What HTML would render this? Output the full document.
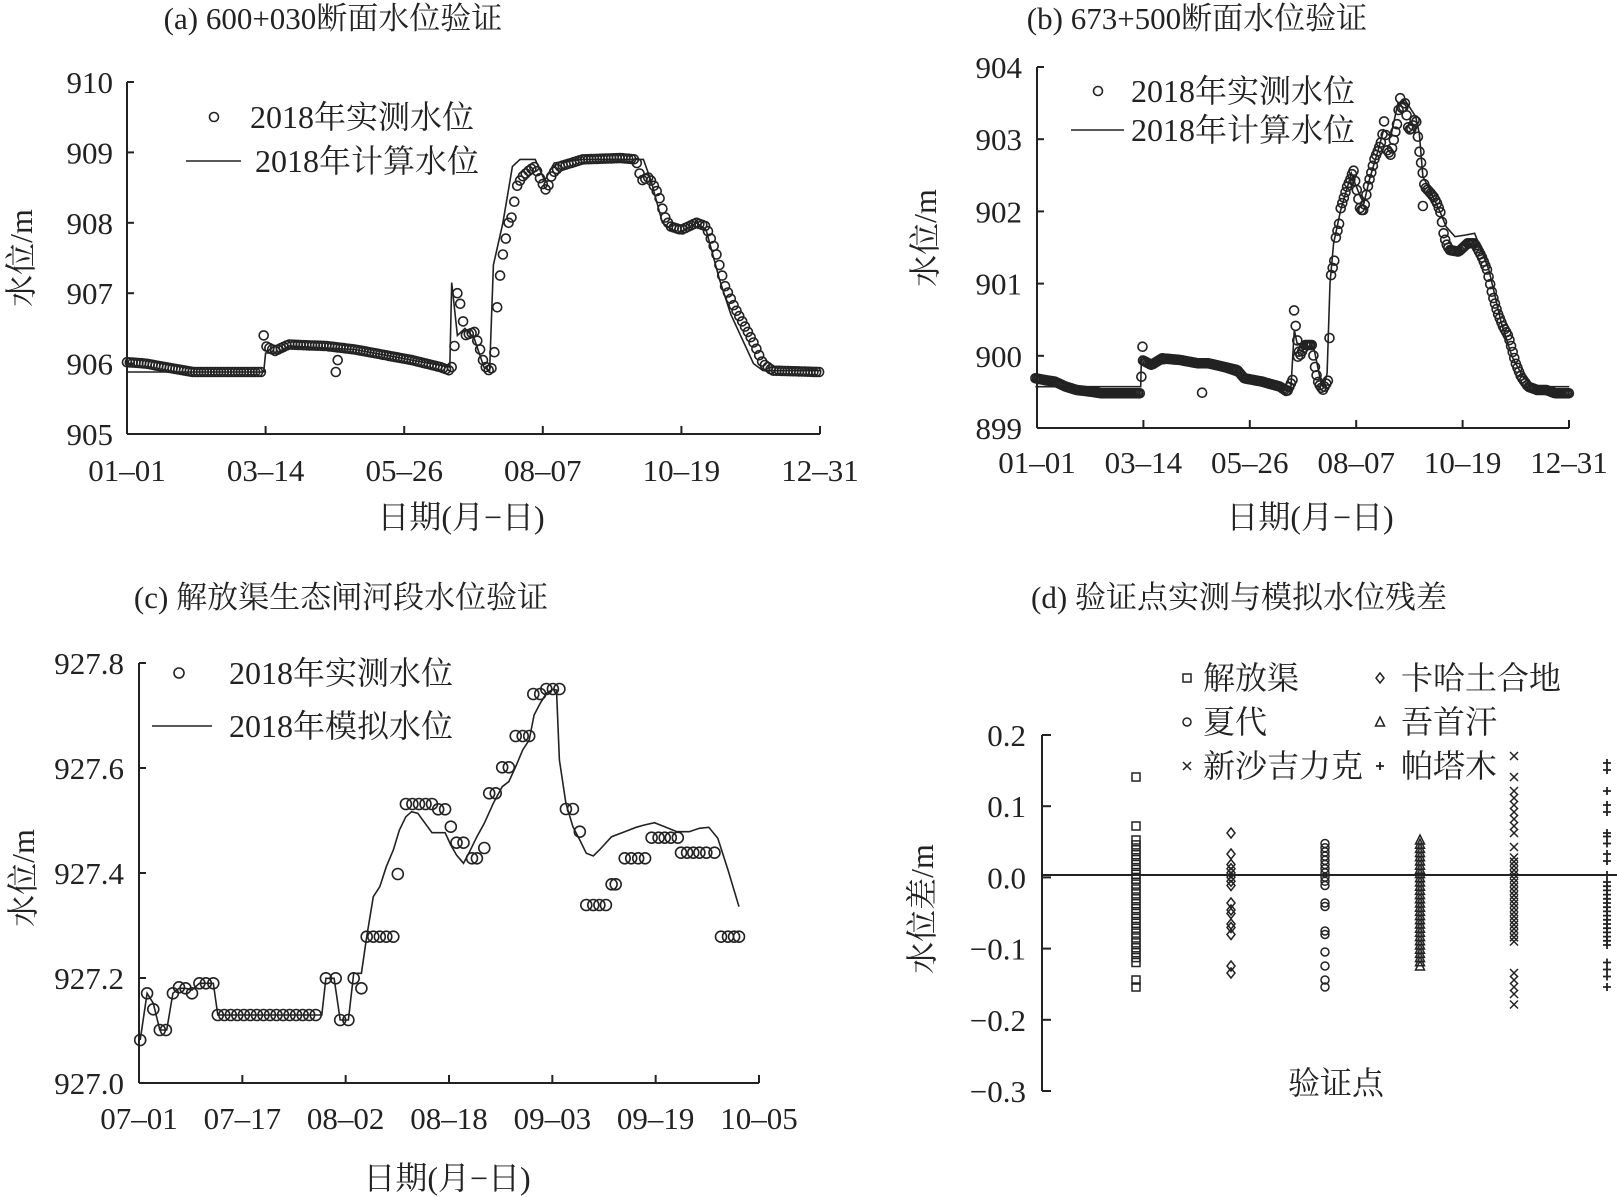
<!DOCTYPE html>
<html><head><meta charset="utf-8"><style>
html,body{margin:0;padding:0;background:#fff}
svg{display:block}
text{font-family:"Liberation Serif","Noto Serif CJK SC","Noto Sans CJK SC",serif;fill:#222}
</style></head><body>
<svg id="s" width="1617" height="1197" viewBox="0 0 1617 1197" xmlns="http://www.w3.org/2000/svg">
<g stroke="#222" stroke-width="2" fill="none" id="axes"></g>
<g id="g" fill="none" stroke="#222" stroke-width="1.6"></g>
<g id="t" font-size="31"></g>
</svg>
<script>
const NS="http://www.w3.org/2000/svg";
const G=document.getElementById('g'),T=document.getElementById('t'),A=document.getElementById('axes');
function el(p,tag,at){const e=document.createElementNS(NS,tag);for(const k in at)e.setAttribute(k,at[k]);p.appendChild(e);return e;}
function txt(x,y,s,anchor,size,rot){const e=el(T,'text',{x:x,y:y,'text-anchor':anchor||'middle'});if(size)e.setAttribute('font-size',size);if(rot)e.setAttribute('transform','rotate(-90 '+x+' '+y+')');e.textContent=s;return e;}
function line(x1,y1,x2,y2){el(A,'line',{x1,y1,x2,y2});}
function interp(pts,x){for(let i=0;i<pts.length-1;i++){if(x>=pts[i][0]&&x<=pts[i+1][0]){const t=(x-pts[i][0])/((pts[i+1][0]-pts[i][0])||1);return pts[i][1]+t*(pts[i+1][1]-pts[i][1]);}}return pts[pts.length-1][1];}
function poly(pts){el(G,'polyline',{points:pts.map(p=>p[0].toFixed(1)+','+p[1].toFixed(1)).join(' ')});}
function circ(x,y,r){el(G,'circle',{cx:x.toFixed(1),cy:y.toFixed(1),r:r||4.5});}

// ---------- Panel a ----------
(function(){
const x0=127,x1=820,yT=82,yB=434;
const X=d=>x0+d*(x1-x0)/365, Y=v=>yB-(v-905)*(yB-yT)/5;
line(x0,yT,x0,yB);line(x0,yB,x1,yB);
for(let i=0;i<=5;i++){const y=yB-i*(yB-yT)/5;line(x0,y,x0+7,y);txt(113,y+11,String(905+i),'end');}
const lab=['01–01','03–14','05–26','08–07','10–19','12–31'];
for(let i=0;i<6;i++){const x=x0+i*(x1-x0)/5;line(x,yB,x,yB-8);txt(x,481,lab[i]);}
const obs=[[0,906.02],[10,906.0],[20,905.95],[35,905.88],[71,905.88],[72,906.4],[73,906.25],[78,906.18],[85,906.27],[105,906.25],[120,906.2],[150,906.05],[165,905.95],[170,905.9],[172,906.0],[174,907.0],[176,906.8],[178,906.4],[183,906.45],[186,906.2],[188,906.0],[190,905.9],[193,905.95],[195,906.8],[197,907.4],[199,907.7],[201,908.0],[203,908.1],[205,908.5],[208,908.65],[212,908.75],[215,908.8],[218,908.6],[221,908.45],[224,908.7],[228,908.8],[240,908.9],[260,908.92],[268,908.9],[271,908.6],[275,908.65],[280,908.4],[283,908.1],[286,907.95],[292,907.9],[300,908.0],[305,907.95],[310,907.6],[315,907.1],[320,906.8],[330,906.3],[335,906.0],[340,905.9],[365,905.88]];
const calc=[[0,905.88],[72,905.88],[73,906.15],[80,906.15],[85,906.25],[120,906.2],[160,906.0],[170,905.95],[171,907.15],[174,906.4],[178,906.5],[183,906.35],[188,905.95],[191,905.9],[193,907.4],[198,908.0],[203,908.8],[207,908.9],[215,908.9],[220,908.6],[225,908.85],[240,908.9],[272,908.9],[276,908.6],[282,908.0],[290,907.85],[300,908.0],[305,907.9],[312,907.2],[318,906.7],[330,906.0],[335,905.9],[365,905.9]];
poly(calc.map(p=>[X(p[0]),Y(p[1])]));
for(let d=0;d<=365;d+=1.5)circ(X(d),Y(interp(obs,d)));
circ(X(110),Y(905.88));circ(X(111),Y(906.05));
txt(333,29,'(a) 600+030断面水位验证','middle',31);
circ(214,117,4.5);
txt(250,128,'2018年实测水位','start',32);
el(A,'line',{x1:186,y1:161,x2:241,y2:161,'stroke-width':1.6});
txt(255,172,'2018年计算水位','start',32);
txt(461,528,'日期(月−日)','middle',32);
txt(32,258,'水位/m','middle',32,true);
})();

// ---------- Panel b ----------
(function(){
const x0=1037,x1=1569,yT=67,yB=428;
line(x0,yT,x0,yB);line(x0,yB,x1,yB);
for(let i=0;i<=5;i++){const y=yB-i*(yB-yT)/5;line(x0,y,x0+7,y);txt(1022,y+11,String(899+i),'end');}
const lab=['01–01','03–14','05–26','08–07','10–19','12–31'];
for(let i=0;i<6;i++){const x=x0+i*(x1-x0)/5;line(x,yB,x,yB-8);txt(x,473,lab[i]);}
const c=p=>[1030+p[0]/2.8,50+p[1]/3];
const obs=[[15,985],[40,990],[70,995],[100,1010],[130,1020],[170,1025],[200,1030],[310,1030],[314,930],[340,945],[370,925],[420,930],[470,940],[500,940],[540,950],[580,960],[600,985],[650,995],[700,1010],[720,1025],[735,990],[740,758],[745,845],[755,920],[770,885],[790,885],[795,930],[800,965],[808,1000],[820,1020],[835,990],[840,810],[842,680],[852,632],[856,565],[868,510],[870,475],[880,440],[888,410],[900,380],[905,355],[910,390],[915,420],[925,480],[935,480],[945,415],[955,370],[965,325],[975,300],[985,270],[992,210],[1000,300],[1010,315],[1015,290],[1022,250],[1030,210],[1035,135],[1042,180],[1050,160],[1060,240],[1070,235],[1080,200],[1092,320],[1097,350],[1105,410],[1118,425],[1130,440],[1140,460],[1150,490],[1158,550],[1165,580],[1175,600],[1200,605],[1225,580],[1245,580],[1265,620],[1280,660],[1295,735],[1310,790],[1325,830],[1340,860],[1350,900],[1360,940],[1375,980],[1395,1010],[1420,1020],[1445,1020],[1470,1030],[1510,1030]];
const calc=[[15,1010],[310,1010],[312,920],[340,945],[420,935],[490,945],[600,985],[720,1020],[730,1025],[740,840],[748,880],[770,885],[795,895],[815,1000],[825,1000],[832,970],[840,700],[850,580],[870,480],[900,370],[910,400],[925,440],[935,460],[950,390],[975,300],[990,240],[1010,260],[1030,160],[1050,150],[1080,200],[1090,250],[1100,380],[1120,420],[1150,490],[1165,530],[1190,560],[1220,555],[1245,550],[1260,590],[1285,660],[1320,820],[1350,920],[1380,980],[1410,1010],[1510,1010]];
poly(calc.map(c));
for(let zx=15;zx<=1510;zx+=4.5){const p=c([zx,interp(obs,zx)]);circ(p[0],p[1]);}
[[315,890],[482,1028],[1100,468],[750,920]].forEach(p=>{const q=c(p);circ(q[0],q[1]);});
txt(1197,29,'(b) 673+500断面水位验证','middle',31);
circ(1098,91,4.5);
txt(1131,102,'2018年实测水位','start',32);
el(A,'line',{x1:1071,y1:130,x2:1124,y2:130,'stroke-width':1.6});
txt(1131,141,'2018年计算水位','start',32);
txt(1310,528,'日期(月−日)','middle',32);
txt(936,238,'水位/m','middle',32,true);
})();

// ---------- Panel c ----------
(function(){
const x0=139,x1=759,yT=663,yB=1083;
line(x0,yT,x0,yB);line(x0,yB,x1,yB);
const yl=['927.0','927.2','927.4','927.6','927.8'];
for(let i=0;i<=4;i++){const y=yB-i*(yB-yT)/4;line(x0,y,x0+7,y);txt(124,y+11,yl[i],'end');}
const lab=['07–01','07–17','08–02','08–18','09–03','09–19','10–05'];
for(let i=0;i<7;i++){const x=x0+i*(x1-x0)/6;line(x,yB,x,yB-8);txt(x,1129,lab[i]);}
const c=p=>[130+p[0]/2.45,650+p[1]/3];
let obs=[[25,1170],[42,1030],[57,1078],[73,1140],[88,1140],[105,1030],[120,1012],[136,1015],[152,1030],[170,1000],[186,1000],[204,1000],[215,1095]];
for(let x=231;x<=470;x+=16)obs.push([x,1095]);
obs=obs.concat([[480,985],[504,985],[515,1110],[535,1110],[548,985],[567,1015],[580,860],[596,860],[612,860],[628,860],[645,860],[656,672],[676,462],[692,462],[708,462],[724,462],[740,462],[755,478],[772,478],[786,530],[800,578],[817,578],[838,625],[850,625],[868,594],[880,430],[896,430],[912,352],[928,352],[945,258],[962,258],[978,258],[988,132],[1005,132],[1020,117],[1036,117],[1052,117],[1068,477],[1085,477],[1102,545],[1118,765],[1135,765],[1150,765],[1166,765],[1180,703],[1190,703],[1212,625],[1228,625],[1245,625],[1262,625],[1278,563],[1295,563],[1310,563],[1325,563],[1342,563],[1350,608],[1365,608],[1380,608],[1395,608],[1412,608],[1432,608],[1448,860],[1465,860],[1480,860],[1492,860]]);
const calc=[[25,1170],[42,1030],[57,1060],[73,1140],[90,1140],[105,1030],[120,1015],[136,1015],[152,1020],[170,1000],[204,1000],[215,1095],[470,1095],[480,985],[500,985],[515,1110],[535,1110],[548,970],[567,970],[580,860],[596,740],[612,710],[628,650],[645,600],[660,540],[676,500],[690,485],[705,490],[740,548],[772,548],[786,585],[800,615],[817,640],[830,610],[850,560],[868,520],[890,460],[912,410],[928,395],[945,350],[962,300],[978,270],[990,195],[1005,160],[1020,130],[1036,118],[1045,120],[1052,330],[1068,460],[1085,530],[1102,570],[1118,610],[1135,618],[1150,600],[1180,560],[1212,545],[1240,532],[1260,525],[1285,518],[1310,530],[1340,545],[1370,545],[1395,535],[1418,532],[1440,565],[1465,660],[1492,770]];
poly(calc.map(c));
obs.forEach(p=>{const q=c(p);circ(q[0],q[1],5.5);});
txt(341,608,'(c) 解放渠生态闸河段水位验证','middle',31);
circ(179,673,5);
txt(229,684,'2018年实测水位','start',32);
el(A,'line',{x1:152,y1:726,x2:212,y2:726,'stroke-width':1.6});
txt(229,737,'2018年模拟水位','start',32);
txt(447,1189,'日期(月−日)','middle',32);
txt(34,878,'水位/m','middle',32,true);
})();

// ---------- Panel d ----------
(function(){
const x0=1042,yT=735,yB=1091,y0=875;
const Y=v=>y0-v*700;
line(x0,yT,x0,yB);
el(A,'line',{x1:x0,y1:y0,x2:1617,y2:y0});
const yl=['0.2','0.1','0.0','−0.1','−0.2','−0.3'];
for(let i=0;i<=5;i++){const y=yT+i*(yB-yT)/5;line(x0,y,x0+9,y);txt(1026,y+11,yl[i],'end');}
function sq(x,y){el(G,'rect',{x:x-4,y:y-4,width:8,height:8,'stroke-width':1.5});}
function di(x,y){el(G,'path',{d:`M${x} ${y-5}L${x+4} ${y}L${x} ${y+5}L${x-4} ${y}Z`,'stroke-width':1.5});}
function ci(x,y){el(G,'circle',{cx:x,cy:y,r:4,'stroke-width':1.5});}
function tr(x,y){el(G,'path',{d:`M${x} ${y-5}L${x+4.5} ${y+4}L${x-4.5} ${y+4}Z`,'stroke-width':1.5});}
function cr(x,y){el(G,'path',{d:`M${x-4} ${y-4}L${x+4} ${y+4}M${x+4} ${y-4}L${x-4} ${y+4}`,'stroke-width':1.5});}
function pl(x,y){el(G,'path',{d:`M${x-4} ${y}L${x+4} ${y}M${x} ${y-4}L${x} ${y+4}`,'stroke-width':1.8});}
function range(a,b,s){const r=[];for(let v=a;v>=b-1e-9;v-=s)r.push(v);return r;}
[0.14,0.07].concat(range(0.05,-0.13,0.007),[-0.15,-0.16]).forEach(v=>sq(1136,Y(v)));
[0.06,0.03].concat(range(0.015,-0.02,0.006),[-0.04,-0.05,-0.055,-0.07,-0.075,-0.085,-0.13,-0.14]).forEach(v=>di(1231,Y(v)));
range(0.045,-0.02,0.006).concat([-0.04,-0.045,-0.08,-0.085,-0.11,-0.13,-0.15,-0.16]).forEach(v=>ci(1325,Y(v)));
range(0.05,-0.135,0.006).forEach(v=>tr(1420,Y(v)));
[0.17,0.14,0.12,0.11,0.10,0.09,0.08,0.07,0.06,0.04].concat(range(0.025,-0.1,0.006),[-0.14,-0.15,-0.16,-0.17,-0.185]).forEach(v=>cr(1514,Y(v)));
[0.16,0.15,0.12,0.1,0.09,0.06,0.055,0.045,0.03,0.02,0.0].concat(range(-0.01,-0.1,0.006),[-0.125,-0.135,-0.145,-0.16]).forEach(v=>pl(1607,Y(v)));
sq(1187,678);txt(1203,689,'解放渠','start',32);
di(1380,678);txt(1401,689,'卡哈土合地','start',32);
ci(1187,722);txt(1203,733,'夏代','start',32);
tr(1380,722);txt(1401,733,'吾首汗','start',32);
cr(1187,766);txt(1203,777,'新沙吉力克','start',32);
pl(1380,766);txt(1401,777,'帕塔木','start',32);
txt(1239,608,'(d) 验证点实测与模拟水位残差','middle',31);
txt(1336,1094,'验证点','middle',32);
txt(933,909,'水位差/m','middle',32,true);
})();
</script>
</body></html>
